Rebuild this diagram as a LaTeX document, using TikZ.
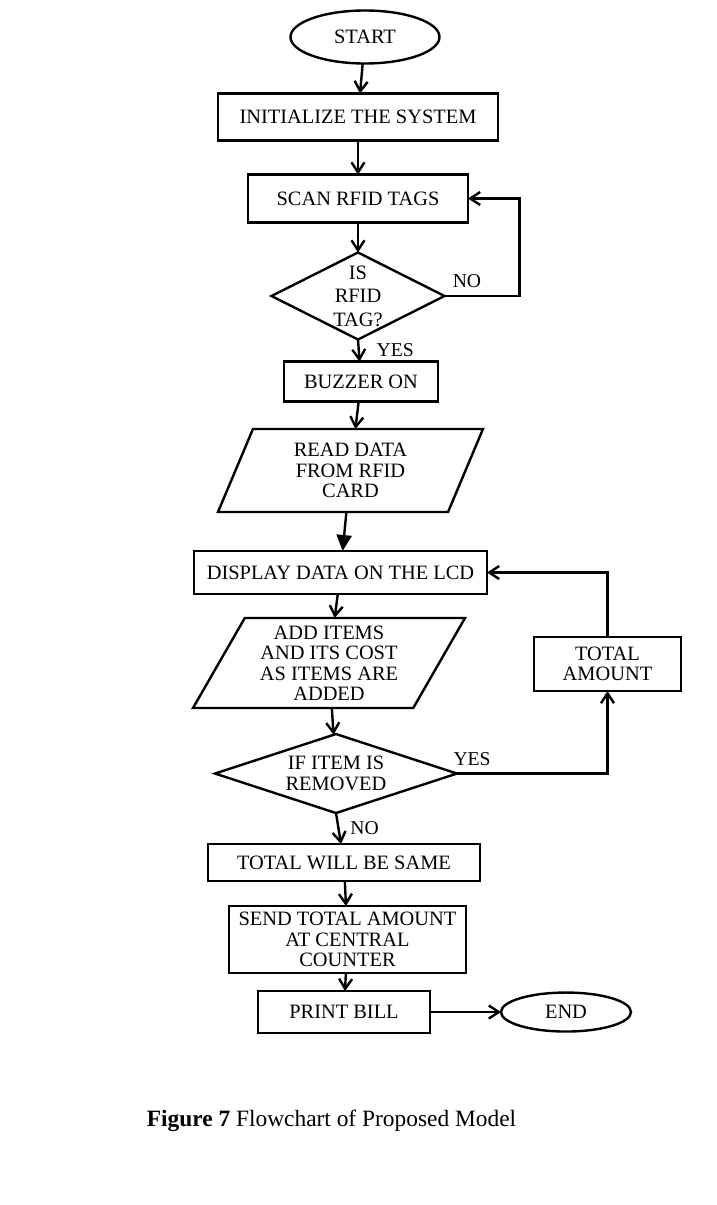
\documentclass[tikz,border=0pt]{standalone}
\usepackage{fontspec}
\setmainfont{Liberation Serif}
\usetikzlibrary{positioning,arrows.meta,shapes.geometric,calc}
\newcommand{\boxfont}{\fontsize{10.2}{10.25}\selectfont}
\tikzset{
  proc/.style     = {draw, line width=1.2pt, align=center, font=\boxfont, inner sep=0pt, outer sep=0pt},
  term/.style     = {draw, ellipse, line width=1.2pt, font=\boxfont, inner sep=0pt, outer sep=0pt},
  io/.style       = {draw, trapezium, trapezium stretches body=true, line width=1.2pt, align=center, font=\boxfont, inner sep=0pt, outer sep=0pt},
  decision/.style = {draw, diamond, line width=1.2pt, inner sep=0pt, outer sep=0pt},
  flow/.style     = {-{Straight Barb[length=5pt,width=6.5pt]}, line width=1.2pt},
  fflow/.style    = {-{Triangle[length=8pt,width=7.5pt]}, line width=1.2pt},
  lbl/.style      = {font=\fontsize{9.8}{10}\selectfont},
}
\begin{document}
\begin{tikzpicture}
  \useasboundingbox (-182.5pt,18.5pt) rectangle (176pt,-584pt);
  % main column
  \node[term, minimum width=74.5pt, minimum height=26.5pt] (start) at (0,0) {START};
  \node[proc, minimum width=140pt, minimum height=23.5pt, below=15pt of start, xshift=-3.5pt] (init) {INITIALIZE THE SYSTEM};
  \node[proc, minimum width=110pt, minimum height=24pt, below=17pt of init] (scan) {SCAN RFID TAGS};
  \node[decision, minimum width=86.5pt, minimum height=43.5pt, below=15pt of scan,
        label={[align=center, font=\fontsize{10.2}{11.75}\selectfont]center:IS\\RFID\\TAG?}] (istag) {};
  \node[proc, minimum width=77pt, minimum height=20pt, below=11pt of istag, xshift=1.5pt] (buzzer) {BUZZER ON};
  \node[io, trapezium left angle=57.4, trapezium right angle=122.6, minimum width=132.5pt, minimum height=41.5pt,
        below=13.75pt of buzzer, xshift=-5.25pt] (read) {READ DATA\\FROM RFID\\CARD};
  \node[proc, minimum width=146.5pt, minimum height=21.5pt, below=19.5pt of read, xshift=-5pt] (display) {DISPLAY DATA ON THE LCD};
  \node[io, trapezium left angle=55.4, trapezium right angle=124.6, minimum width=136pt, minimum height=45pt,
        below=12pt of display, xshift=-5.75pt] (add) {ADD ITEMS\\AND ITS COST\\AS ITEMS ARE\\ADDED};
  \node[decision, minimum width=121pt, minimum height=39.5pt, below=13pt of add, xshift=3.5pt,
        label={[align=center, font=\boxfont]center:IF ITEM IS\\REMOVED}] (removed) {};
  \node[proc, minimum width=136pt, minimum height=18.5pt, below=15.5pt of removed, xshift=4pt] (same) {TOTAL WILL BE SAME};
  \node[proc, minimum width=118.5pt, minimum height=33.5pt, below=12.5pt of same, xshift=1.75pt] (send) {SEND TOTAL AMOUNT\\AT CENTRAL\\COUNTER};
  \node[proc, minimum width=86pt, minimum height=21pt, below=9pt of send, xshift=-1.75pt] (print) {PRINT BILL};
  \node[term, minimum width=65pt, minimum height=19.5pt, right=35.5pt of print] (stop) {END};
  % side column
  \node[proc, minimum width=73.5pt, minimum height=27pt] (total) at ($(add.center)+(139.25pt,-0.5pt)$) {TOTAL\\AMOUNT};
  \coordinate[right=37.5pt of istag.east] (loopA);

  \draw[flow] (start) -- (init);
  \draw[flow] (init) -- (scan);
  \draw[flow] (scan) -- (istag);
  \draw[flow] (istag.east) -- node[lbl, above, pos=0.3] {NO} (loopA) |- (scan.east);
  \draw[flow] (istag.south) -- node[lbl, right=5pt] {YES} (buzzer);
  \draw[flow] (buzzer) -- (read);
  \draw[fflow] (read) -- (display);
  \draw[flow] (display) -- (add);
  \draw[flow] (add) -- (removed);
  \draw[flow] (removed.east) -| node[lbl, above, pos=0.05] {YES} (total.south);
  \draw[flow] (total.north) |- (display.east);
  \draw[flow] (removed.south) -- node[lbl, right=2pt] {NO} (same);
  \draw[flow] (same) -- (send);
  \draw[flow] (send) -- (print);
  \draw[flow] (print) -- (stop);

  \node[below=38.5pt of print, xshift=-6.25pt, inner sep=0pt, font=\fontsize{11.7}{14}\selectfont] (caption)
    {\textbf{Figure 7} Flowchart of Proposed Model};
\end{tikzpicture}
\end{document}
